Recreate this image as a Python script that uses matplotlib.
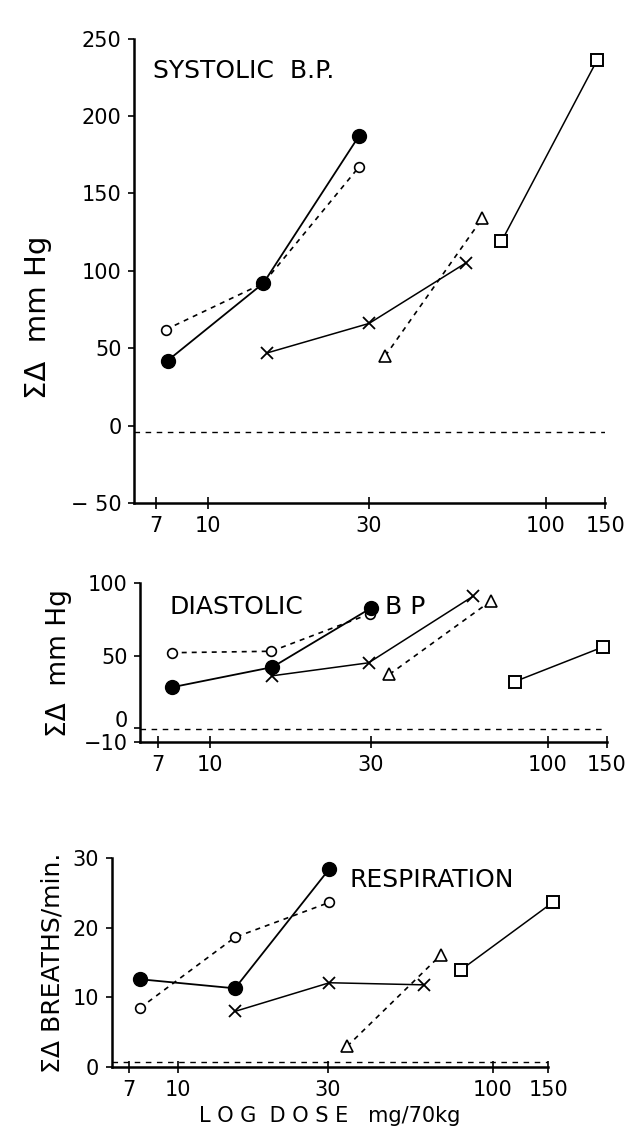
import matplotlib
matplotlib.use("Agg")
import matplotlib.pyplot as plt
from matplotlib.ticker import NullLocator, FixedLocator, FixedFormatter
from matplotlib.transforms import ScaledTranslation

# --- data (dose in mg/70kg, response) ---
# Systolic BP
sys_filled_x = [7.6, 14.6, 28]
sys_filled_y = [42, 92, 187]
sys_open_x = [7.5, 14.6, 28]
sys_open_y = [62, 92, 167]
sys_cross_x = [15, 30, 58]
sys_cross_y = [47, 66, 105]
sys_tri_x = [33.5, 65]
sys_tri_y = [45, 134]
sys_sq_x = [74, 142]
sys_sq_y = [119, 236]
sys_base = -4

# Diastolic BP
dia_filled_x = [7.7, 15.3, 30]
dia_filled_y = [28, 42, 83]
dia_open_x = [7.7, 15.2, 29.8]
dia_open_y = [52, 53, 79]
dia_cross_x = [15.3, 29.5, 60]
dia_cross_y = [36, 45, 91]
dia_tri_x = [34, 68]
dia_tri_y = [37, 88]
dia_sq_x = [80, 146]
dia_sq_y = [32, 56]
dia_base = -1

# Respiration
resp_filled_x = [7.6, 15.2, 30.3]
resp_filled_y = [12.6, 11.3, 28.4]
resp_open_x = [7.6, 15.2, 30.3]
resp_open_y = [8.5, 18.6, 23.6]
resp_cross_x = [15.2, 30.3, 60.5]
resp_cross_y = [8.0, 12.1, 11.8]
resp_tri_x = [34.5, 68.5]
resp_tri_y = [3.0, 16.1]
resp_sq_x = [79, 155]
resp_sq_y = [13.9, 23.6]
resp_base = 0.7

xticks = [7, 10, 30, 100, 150]
xticklabels = ["7", "10", "30", "100", "150"]

plt.rcParams['font.family'] = ['DejaVu Sans']
FS = 15


def draw_panel(ax, d, ylim, yticks, yticklabels, xlim):
    (fx, fy), (ox, oy), (cx, cy), (tx, ty), (sx, sy), base = d
    kw = dict(color="black", clip_on=False, zorder=3)
    ax.plot(ox, oy, linestyle=(0, (3, 3)), lw=1.2, marker="o", ms=7,
            mfc="white", mec="black", mew=1.2, **kw)
    ax.plot(fx, fy, linestyle="-", lw=1.3, marker="o", ms=10,
            mfc="black", mec="black", **kw)
    ax.plot(cx, cy, linestyle="-", lw=1.1, marker="x", ms=8, mew=1.3, **kw)
    ax.plot(tx, ty, linestyle=(0, (3, 3)), lw=1.2, marker="^", ms=8,
            mfc="white", mec="black", mew=1.2, **kw)
    ax.plot(sx, sy, linestyle="-", lw=1.1, marker="s", ms=9,
            mfc="white", mec="black", mew=1.4, **kw)
    ax.axhline(base, color="black", lw=1.0, linestyle=(0, (4, 4)), zorder=1)

    ax.set_xscale("log")
    ax.set_xlim(*xlim)
    ax.set_ylim(*ylim)
    ax.xaxis.set_major_locator(FixedLocator(xticks))
    ax.xaxis.set_major_formatter(FixedFormatter(xticklabels))
    ax.xaxis.set_minor_locator(NullLocator())
    ax.set_yticks(yticks)
    ax.set_yticklabels(yticklabels)
    for s in ["top", "right"]:
        ax.spines[s].set_visible(False)
    for s in ["left", "bottom"]:
        ax.spines[s].set_linewidth(1.8)
    ax.tick_params(axis="x", direction="inout", length=9, width=1.2,
                   labelsize=FS, pad=5)
    ax.tick_params(axis="y", direction="out", length=4, width=1.2,
                   labelsize=FS, pad=5)


fig = plt.figure(figsize=(6.39, 11.33), dpi=100)

ax1 = fig.add_axes([0.210, 0.556, 0.737, 0.41])
draw_panel(ax1,
           ((sys_filled_x, sys_filled_y), (sys_open_x, sys_open_y),
            (sys_cross_x, sys_cross_y), (sys_tri_x, sys_tri_y),
            (sys_sq_x, sys_sq_y), sys_base),
           (-50, 250), [-50, 0, 50, 100, 150, 200, 250],
           ["− 50", "0", "50", "100", "150", "200", "250"], (6.05, 150))
ax1.set_ylabel("ΣΔ  mm Hg", fontsize=21)
ax1.yaxis.set_label_coords(-0.175, 0.40)
ax1.text(0.04, 0.955, "SYSTOLIC  B.P.", transform=ax1.transAxes,
         fontsize=18, va="top")

ax2 = fig.add_axes([0.219, 0.345, 0.731, 0.14])
draw_panel(ax2,
           ((dia_filled_x, dia_filled_y), (dia_open_x, dia_open_y),
            (dia_cross_x, dia_cross_y), (dia_tri_x, dia_tri_y),
            (dia_sq_x, dia_sq_y), dia_base),
           (-10, 100), [-10, 0, 50, 100],
           ["−10", "0", "50", "100"], (6.2, 150))
# the 0 and -10 labels sit on top of each other in the original; lift the 0
lbl0 = ax2.get_yticklabels()[1]
lbl0.set_transform(lbl0.get_transform() +
                   ScaledTranslation(0, 6 / 72, fig.dpi_scale_trans))
ax2.set_ylabel("ΣΔ  mm Hg", fontsize=19, labelpad=8)
ax2.text(0.064, 0.93, "DIASTOLIC", transform=ax2.transAxes,
         fontsize=18, va="top")
ax2.text(0.525, 0.93, "B P", transform=ax2.transAxes,
         fontsize=18, va="top")

ax3 = fig.add_axes([0.175, 0.058, 0.683, 0.185])
draw_panel(ax3,
           ((resp_filled_x, resp_filled_y), (resp_open_x, resp_open_y),
            (resp_cross_x, resp_cross_y), (resp_tri_x, resp_tri_y),
            (resp_sq_x, resp_sq_y), resp_base),
           (0, 30), [0, 10, 20, 30],
           ["0", "10", "20", "30"], (6.18, 150))
ax3.set_ylabel("ΣΔ BREATHS/min.", fontsize=18, labelpad=6)
ax3.set_xlabel("L O G  D O S E   mg/70kg", fontsize=15, labelpad=4)
ax3.text(0.545, 0.95, "RESPIRATION", transform=ax3.transAxes,
         fontsize=18, va="top")

fig.savefig("out.png", dpi=100)
